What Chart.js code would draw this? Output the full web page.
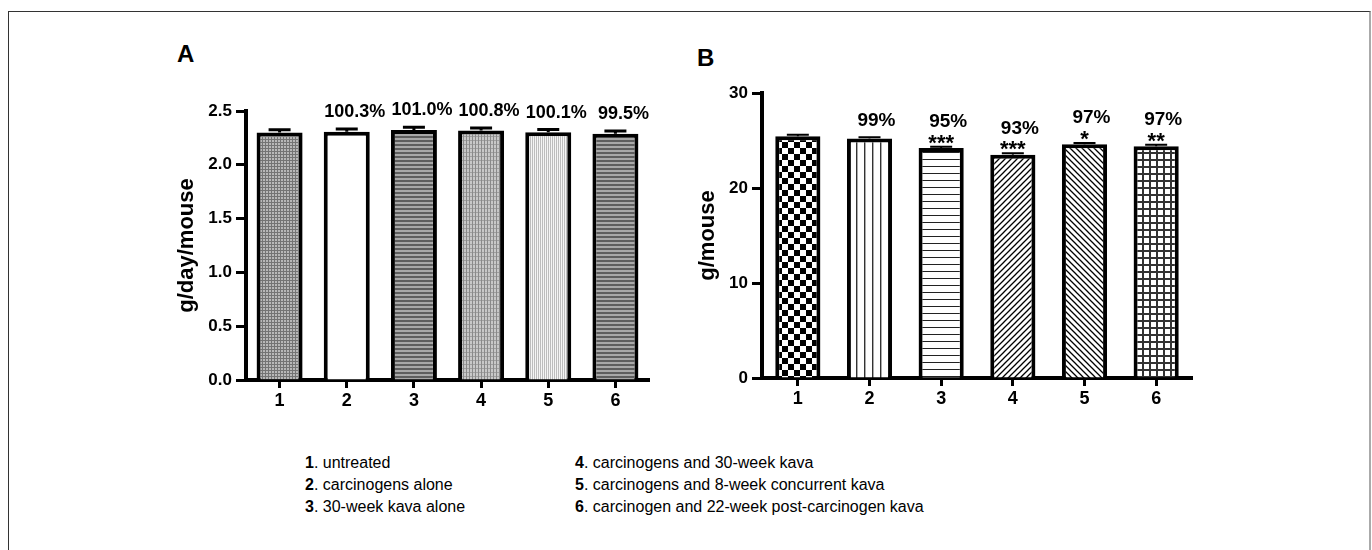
<!DOCTYPE html>
<html>
<head>
<meta charset="utf-8">
<script src="https://cdn.jsdelivr.net/npm/chart.js@4.4.1/dist/chart.umd.min.js"></script>
<style>
  body { margin: 0; background: #fff; width: 1372px; height: 550px; overflow: hidden; position: relative;
         font-family: "Liberation Sans", Arial, sans-serif; color: #000; }
  #frame { position: absolute; left: 8px; top: 11px; width: 1360px; height: 600px;
           border: 1px solid #333; border-right: 2px solid #aaa; }
  .panel { position: absolute; font-weight: bold; font-size: 24px; line-height: 24px; }
  canvas { position: absolute; }
  .key { position: absolute; font-size: 16px; line-height: 22px; white-space: nowrap; }
</style>
</head>
<body>
<div id="frame"></div>
<div class="panel" style="left:177px;top:42px">A</div>
<div class="panel" style="left:697px;top:46px">B</div>
<canvas id="chartA" width="540" height="390" style="left:130px;top:40px"></canvas>
<canvas id="chartB" width="540" height="390" style="left:680px;top:40px"></canvas>
<div class="key" id="key1" style="left:305px;top:452px"></div>
<div class="key" id="key2" style="left:575px;top:452px"></div>

<script>
const groups = ["1", "2", "3", "4", "5", "6"];
const groupNames = [
  "untreated",
  "carcinogens alone",
  "30-week kava alone",
  "carcinogens and 30-week kava",
  "carcinogens and 8-week concurrent kava",
  "carcinogen and 22-week post-carcinogen kava"
];

// panel A: food intake
const intakeA = [2.300, 2.307, 2.323, 2.318, 2.302, 2.289];
const intakeErrA = [0.025, 0.025, 0.025, 0.025, 0.025, 0.025];
const pctA = ["", "100.3%", "101.0%", "100.8%", "100.1%", "99.5%"];

// panel B: body weight
const weightB = [25.45, 25.2, 24.2, 23.5, 24.6, 24.4];
const weightErrB = [0.15, 0.15, 0.15, 0.15, 0.15, 0.15];
const pctB = ["", "99%", "95%", "93%", "97%", "97%"];
const starsB = ["", "", "***", "***", "*", "**"];

const FONT = '"Liberation Sans", Arial, sans-serif';

function tile(ctx, w, h, draw) {
  const c = document.createElement("canvas");
  c.width = w; c.height = h;
  const g = c.getContext("2d");
  draw(g);
  return ctx.createPattern(c, "repeat");
}

function rows(colors) {
  return g => colors.forEach((col, i) => { g.fillStyle = col; g.fillRect(0, i, 40, 1); });
}
function cols(colors) {
  return g => colors.forEach((col, i) => { g.fillStyle = col; g.fillRect(i, 0, 1, 40); });
}

const ctxA = document.getElementById("chartA").getContext("2d");
const ctxB = document.getElementById("chartB").getContext("2d");

const fillsA = [
  tile(ctxA, 3, 3, g => { g.fillStyle = "#b8b8b8"; g.fillRect(0, 0, 3, 3); g.fillStyle = "#747474"; g.fillRect(0, 0, 3, 1); g.fillRect(0, 0, 1, 3); }),
  "#ffffff",
  tile(ctxA, 1, 4, rows(["#5e5e5e", "#5e5e5e", "#a8a8a8", "#a8a8a8"])),
  tile(ctxA, 3, 4, g => { g.fillStyle = "#c8c8c8"; g.fillRect(0, 0, 3, 4); g.fillStyle = "#a0a0a0"; g.fillRect(0, 0, 3, 1); g.fillStyle = "#8a8a8a"; g.fillRect(0, 0, 1, 4); }),
  tile(ctxA, 2, 1, cols(["#bdbdbd", "#f5f5f5"])),
  tile(ctxA, 1, 4, rows(["#5e5e5e", "#5e5e5e", "#a8a8a8", "#a8a8a8"]))
];

const fillsB = [
  tile(ctxB, 12, 12, g => { g.fillStyle = "#fff"; g.fillRect(0, 0, 12, 12); g.fillStyle = "#000"; g.fillRect(0, 0, 6, 6); g.fillRect(6, 6, 6, 6); }),
  tile(ctxB, 8, 1, cols(["#333", "#aaa", "#fff", "#fff", "#fff", "#fff", "#fff", "#fff"])),
  tile(ctxB, 1, 7, rows(["#222", "#fff", "#fff", "#fff", "#fff", "#fff", "#fff"])),
  tile(ctxB, 6, 6, g => {
    g.fillStyle = "#fff"; g.fillRect(0, 0, 6, 6);
    g.strokeStyle = "#000"; g.lineWidth = 1.3; g.beginPath();
    g.moveTo(0, 6); g.lineTo(6, 0); g.moveTo(-1, 1); g.lineTo(1, -1); g.moveTo(5, 7); g.lineTo(7, 5); g.stroke();
  }),
  tile(ctxB, 6, 6, g => {
    g.fillStyle = "#fff"; g.fillRect(0, 0, 6, 6);
    g.strokeStyle = "#000"; g.lineWidth = 1.3; g.beginPath();
    g.moveTo(0, 0); g.lineTo(6, 6); g.moveTo(5, -1); g.lineTo(7, 1); g.moveTo(-1, 5); g.lineTo(1, 7); g.stroke();
  }),
  tile(ctxB, 7, 7, g => { g.fillStyle = "#fff"; g.fillRect(0, 0, 7, 7); g.fillStyle = "#333"; g.fillRect(0, 0, 7, 2); g.fillRect(0, 0, 2, 7); })
];

// error bars + percentage / significance labels over each bar
const annot = {
  id: "annot",
  afterDatasetsDraw(chart, args, o) {
    const { ctx } = chart;
    const ys = chart.scales.y;
    chart.getDatasetMeta(0).data.forEach((bar, i) => {
      const v = o.values[i], e = o.errors[i];
      const top = ys.getPixelForValue(v + e);
      ctx.save();
      ctx.strokeStyle = "#000";
      ctx.lineWidth = o.capWidth;
      ctx.beginPath();
      ctx.moveTo(bar.x, ys.getPixelForValue(v));
      ctx.lineTo(bar.x, top);
      ctx.moveTo(bar.x - o.capHalf, top);
      ctx.lineTo(bar.x + o.capHalf, top);
      ctx.stroke();

      ctx.fillStyle = "#000";
      ctx.textAlign = "center";
      ctx.textBaseline = "middle";
      const stars = o.stars ? o.stars[i] : "";
      if (o.pct[i]) {
        ctx.font = "bold " + o.pctSize + "px " + FONT;
        ctx.fillText(o.pct[i], bar.x + o.dx, top - (stars ? o.gapStars : o.gap));
      }
      if (stars) {
        ctx.font = "bold 22px " + FONT;
        ctx.fillText(stars, bar.x, top - 3);
      }
      ctx.restore();
    });
  }
};

function makeChart(ctx, cfg) {
  return new Chart(ctx, {
    type: "bar",
    data: {
      labels: groups,
      datasets: [{
        data: cfg.values,
        backgroundColor: cfg.fills,
        borderColor: "#000",
        borderWidth: 4,
        borderSkipped: "bottom",
        barPercentage: cfg.barPct,
        categoryPercentage: 1
      }]
    },
    options: {
      responsive: false,
      animation: false,
      events: [],
      layout: { padding: cfg.padding },
      plugins: {
        legend: { display: false },
        tooltip: { enabled: false },
        annot: cfg.annot
      },
      scales: {
        x: {
          grid: { offset: false, drawOnChartArea: false, tickLength: 8, tickWidth: 3, tickColor: "#000" },
          border: { width: 4, color: "#000" },
          ticks: { color: "#000", padding: 2, font: { family: FONT, size: 18, weight: "bold" } },
          afterFit: s => { s.height = 40; }
        },
        y: {
          min: cfg.min, max: cfg.max,
          grid: { drawOnChartArea: false, tickLength: 10, tickWidth: 3, tickColor: "#000" },
          border: { width: 4, color: "#000" },
          ticks: { stepSize: cfg.step, color: "#000", padding: 4, callback: cfg.fmt,
                   font: { family: FONT, size: 17, weight: "bold" } },
          title: { display: true, text: cfg.title, color: "#000", padding: { top: cfg.titlePad, bottom: 0 },
                   font: { family: FONT, size: 22, weight: "bold" } },
          afterFit: s => { s.width = cfg.yWidth; }
        }
      }
    },
    plugins: [annot]
  });
}

makeChart(ctxA, {
  values: intakeA, fills: fillsA, barPct: 0.685,
  padding: { left: 0, top: 71, right: 21, bottom: 10 },
  min: 0, max: 2.5, step: 0.5, fmt: v => v.toFixed(1),
  title: "g/day/mouse", titlePad: 44, yWidth: 116,
  annot: { values: intakeA, errors: intakeErrA, pct: pctA, capWidth: 3, capHalf: 11,
           pctSize: 18, dx: 8, gap: 17, gapStars: 17 }
});

makeChart(ctxB, {
  values: weightB, fills: fillsB, barPct: 0.63,
  padding: { left: 0, top: 53, right: 28, bottom: 12 },
  min: 0, max: 30, step: 10, fmt: v => String(v),
  title: "g/mouse", titlePad: 15, yWidth: 82,
  annot: { values: weightB, errors: weightErrB, pct: pctB, stars: starsB, capWidth: 2, capHalf: 11,
           pctSize: 19, dx: 7, gap: 16, gapStars: 25 }
});

// group key under the panels
const half = groupNames.length / 2;
function keyLines(from, to) {
  return groupNames.slice(from, to).map((n, i) => `<b>${groups[from + i]}</b>. ${n}`).join("<br>");
}
document.getElementById("key1").innerHTML = keyLines(0, half);
document.getElementById("key2").innerHTML = keyLines(half, groupNames.length);
</script>
</body>
</html>
